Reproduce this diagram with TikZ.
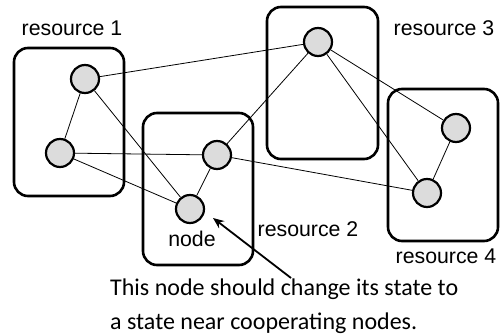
\documentclass[tikz,border=0pt]{standalone}
\usepackage{fontspec}
\setmainfont{Liberation Sans}
\newfontfamily\capfont{Carlito}
\usetikzlibrary{arrows.meta}
\definecolor{nodefill}{HTML}{DCDCDC}
\begin{document}
\begin{tikzpicture}[x=1pt,y=-1pt,
  resbox/.style={draw, line width=2.6pt, rounded corners=14pt},
  peer/.style={circle, draw, line width=2.2pt, fill=nodefill, minimum size=28pt, inner sep=0pt},
  link/.style={line width=0.8pt},
  lbl/.style={font=\fontsize{21.3}{24}\selectfont, inner sep=0pt},
  capline/.style={anchor=base west, inner sep=0pt, font=\capfont\fontsize{24}{28}\selectfont}]
\useasboundingbox (0,0) rectangle (500,336);

% resource boxes
\draw[resbox] (14,48) rectangle (124,196);
\draw[resbox] (143,113) rectangle (253,265);
\draw[resbox] (267,7) rectangle (378,159);
\draw[resbox] (388,89) rectangle (498,241);

% nodes
\node[peer] (a1) at (85,79) {};
\node[peer] (a2) at (60,153) {};
\node[peer] (b1) at (217,155) {};
\node[peer] (b2) at (190,209) {};
\node[peer] (c1) at (318,42) {};
\node[peer] (d1) at (456,128) {};
\node[peer] (d2) at (427,193) {};

% links
\draw[link] (a1) -- (c1);
\draw[link] (a1) -- (a2);
\draw[link] (a1) -- (b2);
\draw[link] (a2) -- (b1);
\draw[link] (a2) -- (b2);
\draw[link] (b1) -- (b2);
\draw[link] (b1) -- (d2);
\draw[link] (c1) -- (b1);
\draw[link] (c1) -- (d1);
\draw[link] (c1) -- (d2);
\draw[link] (d1) -- (d2);

% labels
\node[lbl] (r1) at (72,28) {resource 1};
\node[lbl] (r2) at (308,229) {resource 2};
\node[lbl] (r3) at (444,28) {resource 3};
\node[lbl] (r4) at (446,256) {resource 4};
\node[lbl] (nl) at (192,239) {node};

% caption and pointer
\node[capline] (cap1) at (110,295) {This node should change its state to};
\node[capline] (cap2) at (110,329.5) {a state near cooperating nodes.};
\coordinate (tail) at (291,278);
\coordinate (tip) at (213,218);
\draw[line width=1.8pt, -{Stealth[length=11pt,width=9pt]}] (tail) -- (tip);
\end{tikzpicture}
\end{document}
